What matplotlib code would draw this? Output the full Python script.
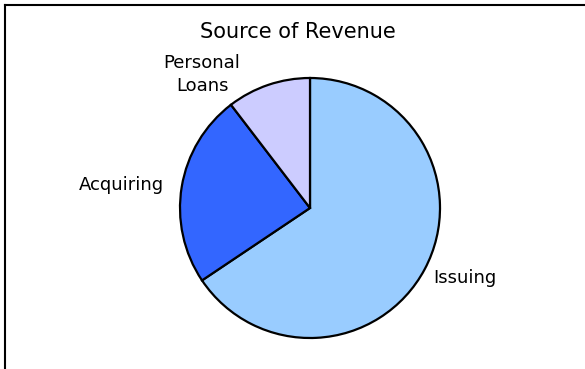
import matplotlib.pyplot as plt
from matplotlib.lines import Line2D

# revenue split
categories = ["Issuing", "Acquiring", "Personal\nLoans"]
shares = [65.6, 24.0, 10.4]
colors = ["#99CCFF", "#3366FF", "#CCCCFF"]

W, H = 585, 369
fig = plt.figure(figsize=(W / 100, H / 100), dpi=100)

# pie centre (310, 208) px, radius 130 px
cx, cy, r = 310, 208, 130
ax = fig.add_axes([(cx - r) / W, (H - cy - r) / H, 2 * r / W, 2 * r / H])
wedges, texts = ax.pie(shares, labels=categories, colors=colors,
                       startangle=90, counterclock=False, labeldistance=1.07,
                       wedgeprops=dict(edgecolor="black", linewidth=1.6),
                       textprops=dict(fontsize=13, family="DejaVu Sans"))
ax.set_xlim(-1, 1)
ax.set_ylim(-1, 1)
ax.set_aspect("equal")

# nudge labels to where the original chart puts them
texts[0].set_position((0.945, -0.54))
texts[0].set_va("center")
texts[1].set_position((-1.12, 0.175))
texts[1].set_va("center")
texts[2].set_position((-0.83, 1.03))
texts[2].set_ha("center")
texts[2].set_va("center")
texts[2].set_multialignment("center")
texts[2].set_linespacing(1.35)

fig.text(298 / W, 1 - 32 / H, "Source of Revenue", ha="center", va="center",
         fontsize=15, family="DejaVu Sans")

# chart frame: only left and top edges are visible
fig.add_artist(Line2D([5 / W, 5 / W], [0, 1 - 5 / H], color="black", lw=1.5))
fig.add_artist(Line2D([5 / W, 1], [1 - 5 / H, 1 - 5 / H], color="black", lw=1.5))

fig.savefig("out.png", dpi=100)
